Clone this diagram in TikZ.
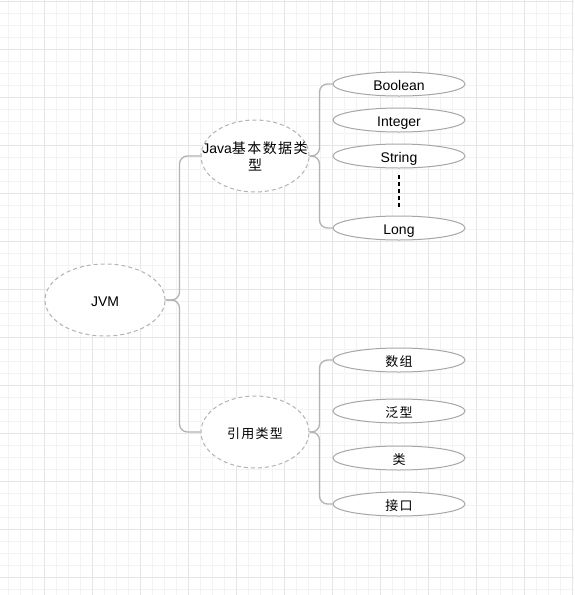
\documentclass[tikz,border=0pt]{standalone}
\usepackage{fontspec}
\setmainfont{Liberation Sans}
\newfontfamily\cjk[LetterSpace=10]{Noto Sans CJK SC}
\usetikzlibrary{shapes.geometric}
\definecolor{gridmin}{HTML}{F3F3F3}
\definecolor{gridmaj}{HTML}{E6E6E6}
\definecolor{edgegray}{HTML}{B3B3B3}
\definecolor{leafgray}{HTML}{A6A6A6}
\tikzset{
  midnode/.style={ellipse, draw=edgegray, dash pattern=on 4pt off 3pt, line width=1pt,
    fill=white, minimum width=108pt, minimum height=72pt, inner sep=0pt, align=center, font=\fontsize{14}{17}\selectfont},
  rootnode/.style={midnode, minimum width=120pt, text height=14pt, text depth=2pt},
  labeltext/.style={inner sep=0pt, align=center, font=\fontsize{14}{17}\selectfont},
  leafnode/.style={ellipse, draw=leafgray, line width=1pt, fill=white,
    minimum width=132pt, minimum height=24pt, inner sep=0pt, text height=14pt, text depth=2pt,
    font=\fontsize{14}{17}\selectfont},
  conn/.style={draw=edgegray, line width=1.3pt, rounded corners=8pt},
}
\begin{document}
\begin{tikzpicture}[x=1pt,y=-1pt]
\useasboundingbox (0,0) rectangle (574,595);
\fill[white] (0,0) rectangle (574,595);
% grid
\foreach \x in {8,20,...,572} \draw[gridmin, line width=0.8pt] (\x,0) -- (\x,595);
\foreach \y in {1,13,...,595} \draw[gridmin, line width=0.8pt] (0,\y) -- (574,\y);
\foreach \x in {44,92,...,572} \draw[gridmaj, line width=0.9pt] (\x,0) -- (\x,595);
\foreach \y in {1,49,...,595} \draw[gridmaj, line width=0.9pt] (0,\y) -- (574,\y);

\node[rootnode] (jvm) at (105,300) {JVM};
\node[midnode, label={[labeltext]center:{Java{\cjk 基本数据类}\\{\cjk 型}}}] (java) at (255,156) {};
\node[midnode, text height=14pt, text depth=2pt] (ref) at (255,432) {\cjk\fontsize{13}{16}\selectfont 引用类型};

\node[leafnode] (bool) at (399,84) {Boolean};
\node[leafnode] (int) at (399,120) {Integer};
\node[leafnode] (str) at (399,156) {String};
\node[leafnode] (long) at (399,228) {Long};

\node[leafnode] (arr) at (399,360) {\cjk\fontsize{13}{16}\selectfont 数组};
\node[leafnode] (gen) at (399,411) {\cjk\fontsize{13}{16}\selectfont 泛型};
\node[leafnode] (cls) at (399,458) {\cjk\fontsize{13}{16}\selectfont 类};
\node[leafnode] (ifc) at (399,504) {\cjk\fontsize{13}{16}\selectfont 接口};

\coordinate (d1) at (399,175);
\coordinate (d2) at (399,208);
\draw[black, line width=1.2pt, dash pattern=on 4pt off 3pt] (d1) -- (d2);

\draw[conn] (jvm.east) -- ++(14,0) |- (java.west);
\draw[conn] (jvm.east) -- ++(14,0) |- (ref.west);

\draw[conn] (java.east) -- ++(10,0) |- (bool.west);
\draw[conn] (java.east) -- ++(10,0) |- (long.west);
\draw[conn] (ref.east) -- ++(10,0) |- (arr.west);
\draw[conn] (ref.east) -- ++(10,0) |- (ifc.west);
\end{tikzpicture}
\end{document}
